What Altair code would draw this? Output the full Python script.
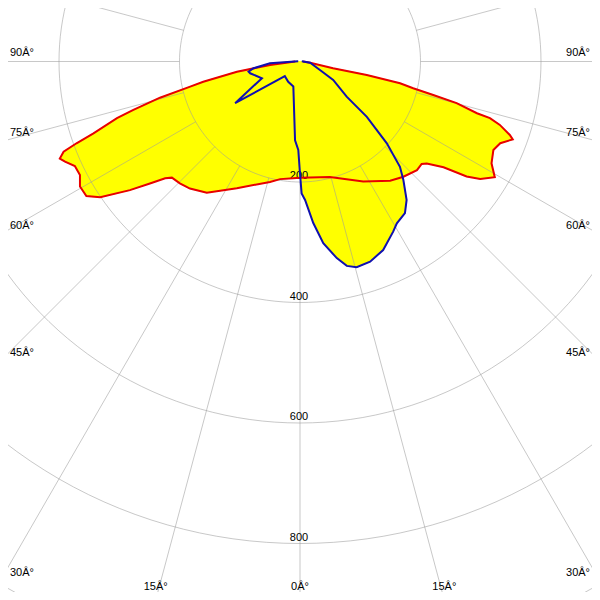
import math
import altair as alt
import pandas as pd

# ---- photometric data (angle from nadir in degrees, intensity in cd) ----
red_angle = [-90, -83.3, -80.8, -78.2, -77.1, -75.5, -73.8, -72.8, -70.8, -69.9, -69.1, -68.0,
             -66.9, -65.1, -62.7, -60.4, -57.8, -55.8, -52.9, -50.9, -49.1, -47.8, -44.6, -40.9,
             -35.4, -26.5, -14.0, -9.6, -3.3, 0, 14.5, 27.8, 37.1, 41.9, 47.1, 49.9, 51.2, 53.6,
             55.4, 56.9, 59.3, 62.0, 65.4, 67.8, 69.9, 70.7, 72.4, 73.4, 73.7, 75.1, 75.9, 76.7,
             77.7, 78.6, 78.5, 83.0, 90]
red_cd = [8, 50, 106, 164, 187, 240, 288, 318, 363, 395, 420, 430,
          424, 412, 411, 420, 419, 401, 354, 321, 296, 287, 284, 279,
          267, 235, 206, 198, 194, 193, 198, 225, 248, 257, 265, 264, 270, 296,
          336, 357, 376, 360, 353, 359, 376, 369, 348, 329, 306, 269, 228, 193,
          170, 113, 56, 17, 5]

blue_angle = [-100, -86.6, -81.7, -78.8, -76.7, -66.3, -65.2, -57.3, -46.0, -30.1, -14.9, -3.6,
              -1.1, 0, 0.7, 2.1, 4.7, 7.3, 10.6, 12.9, 15.4, 19.3, 23.8, 28.7, 30.9, 34.7, 37.6,
              41.1, 43.5, 46.7, 50.4, 53.0, 61.0, 67.0, 83.0, 95]
blue_cd = [3, 50, 78, 87, 85, 69, 73, 128, 35, 39, 43, 131,
           147, 186, 219, 230, 269, 304, 332, 348, 354, 352, 342, 322, 313, 306, 290,
           261, 241, 198, 144, 97, 63, 36, 17, 3]

ring_values = [200, 400, 600, 800, 1000]
ring_labels = ["200", "400", "600", "800"]
spoke_angles = list(range(-165, 181, 15))
label_angles = [0, 15, 30, 45, 60, 75, 90]

# ---- geometry of the picture ----
S = 0.6025          # px per cd
CX, CY = 300, 61.5  # pole position in the 600x600 picture
OFF = 8
W = H = 600 - 2 * OFF
x_dom = [-(CX - OFF) / S, (600 - OFF - CX) / S]
y_dom = [-(CY - OFF) / S, (600 - OFF - CY) / S]

xs = alt.Scale(domain=x_dom, nice=False, zero=False)
ys = alt.Scale(domain=y_dom, nice=False, zero=False, reverse=True)
X = alt.X("x:Q", scale=xs, axis=None)
Y = alt.Y("y:Q", scale=ys, axis=None)

calc = dict(x="datum.cd*sin(datum.angle*PI/180)", y="datum.cd*cos(datum.angle*PI/180)")

curves = pd.DataFrame({
    "angle": red_angle + blue_angle,
    "cd": red_cd + blue_cd,
    "plane": ["C0-C180"] * len(red_angle) + ["C90-C270"] * len(blue_angle),
    "i": list(range(len(red_angle))) + list(range(len(blue_angle))),
})

rows = []
for a in spoke_angles:
    rows.append({"angle": a, "cd": 200, "g": f"s{a}", "i": 0})
    rows.append({"angle": a, "cd": 1400, "g": f"s{a}", "i": 1})
for r in ring_values:
    for k, t in enumerate(range(-180, 181, 2)):
        rows.append({"angle": t, "cd": r, "g": f"c{r}", "i": k})
grid = pd.DataFrame(rows)

fill = alt.Chart(curves).transform_calculate(**calc).mark_line(
    fill="#ffff00", stroke="#ffff00", strokeWidth=1
).encode(x=X, y=Y, detail="plane:N", order="i:Q")

gridl = alt.Chart(grid).transform_calculate(**calc).mark_line(
    stroke="#9a9a9a", strokeOpacity=0.55, strokeWidth=1, clip=True
).encode(x=X, y=Y, detail="g:N", order="i:Q")

ring_df = pd.DataFrame({"cd": ring_values[:4], "label": ring_labels})
ringtxt = alt.Chart(ring_df).transform_calculate(x="0", y="datum.cd").mark_text(
    baseline="bottom", dy=-1, dx=-1, font="Liberation Sans", fontSize=11, color="#000000"
).encode(x=X, y=Y, text="label:N")

outline = alt.Chart(curves).transform_calculate(**calc).mark_line(strokeWidth=2).encode(
    x=X, y=Y, order="i:Q",
    color=alt.Color("plane:N", scale=alt.Scale(domain=["C0-C180", "C90-C270"],
                                               range=["#e80000", "#1010b0"]), legend=None),
)

# angle labels at the places where the spokes leave the frame
xl, xr, yb = -CX / S, (600 - CX) / S, (600 - CY) / S
side_rows, bottom_rows = [], []
for a in label_angles:
    for side in ([1] if a == 0 else [-1, 1]):
        sa, ca = math.sin(math.radians(a)), math.cos(math.radians(a))
        tx = (xr if side > 0 else -xl) / sa if sa > 1e-9 else float("inf")
        ty = yb / ca if ca > 1e-9 else float("inf")
        lab = f"{a}Â°"
        if tx < ty:
            side_rows.append({"x": side * tx * sa, "y": tx * ca, "label": lab, "side": side})
        else:
            bottom_rows.append({"x": side * ty * sa, "y": yb, "label": lab})
side_df = pd.DataFrame(side_rows)
bottom_df = pd.DataFrame(bottom_rows)
tfont = dict(font="Liberation Sans", fontSize=11, color="#000000")
left_txt = alt.Chart(side_df[side_df.side < 0]).mark_text(
    align="left", baseline="middle", dx=10, dy=-8.5, **tfont).encode(x=X, y=Y, text="label:N")
right_txt = alt.Chart(side_df[side_df.side > 0]).mark_text(
    align="right", baseline="middle", dx=-10, dy=-8.5, **tfont).encode(x=X, y=Y, text="label:N")
bottom_txt = alt.Chart(bottom_df).mark_text(
    align="center", baseline="middle", dy=-13, **tfont).encode(x=X, y=Y, text="label:N")

chart = alt.layer(
    fill, gridl, ringtxt, outline, left_txt, right_txt, bottom_txt
).properties(
    width=W, height=H, padding=0, autosize="none", background="#ffffff"
).configure_view(stroke=None)

chart.save("out.html", embed_options={"renderer": "svg", "actions": False})
